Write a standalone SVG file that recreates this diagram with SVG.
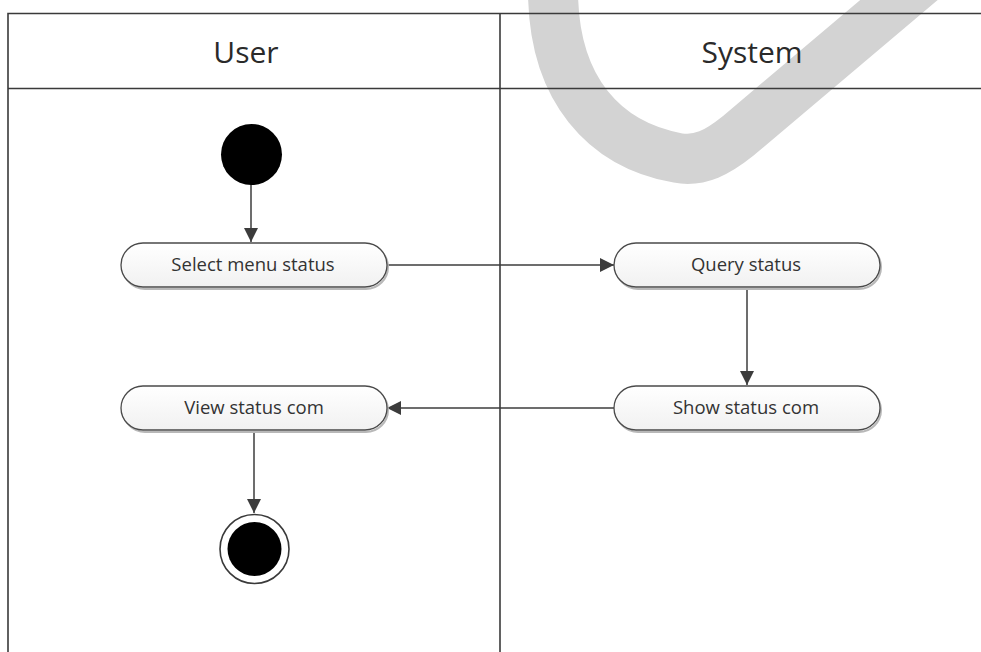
<svg xmlns="http://www.w3.org/2000/svg" width="981" height="652" viewBox="0 0 981 652">
  <style>
    .frame { fill: none; stroke: #3a3a3a; stroke-width: 1.6; }
    .lane-title { font-family: "Open Sans", "Noto Sans", sans-serif; font-size: 30px; fill: #2a2a2a; text-anchor: middle; }
    .node-box { fill: url(#nodeGrad); stroke: #4a4a4a; stroke-width: 1.3; }
    .node-shadow { fill: none; stroke: #b8b8b8; stroke-width: 2; }
    .node-text { font-family: "Open Sans", "Noto Sans", sans-serif; font-size: 18.5px; fill: #333; text-anchor: middle; }
    .conn { fill: none; stroke: #3c3c3c; stroke-width: 1.5; marker-end: url(#arrow); }
  </style>
  <defs>
    <linearGradient id="nodeGrad" x1="0" y1="0" x2="0" y2="1">
      <stop offset="0" stop-color="#ffffff"/>
      <stop offset="1" stop-color="#f1f1f1"/>
    </linearGradient>
    <marker id="arrow" viewBox="0 0 14 14" refX="14" refY="7" markerWidth="14" markerHeight="14" markerUnits="userSpaceOnUse" orient="auto">
      <path d="M0,0 L14,7 L0,14 z" fill="#3c3c3c"/>
    </marker>
  </defs>
  <rect width="981" height="652" fill="#ffffff"/>

  <!-- watermark band -->
  <path d="M 553 -10 C 553 90, 605 145, 678 158 C 700 162, 718 152, 738 136 L 925 -22" fill="none" stroke="#d3d3d3" stroke-width="50"/>

  <g id="swimlanes">
    <path class="frame" d="M 990 13.5 L 8 13.5 L 8 660"/>
    <line class="frame" x1="8" y1="88.5" x2="990" y2="88.5"/>
    <line class="frame" x1="500" y1="13.5" x2="500" y2="660"/>
    <text class="lane-title" x="246" y="63">User</text>
    <text class="lane-title" x="752" y="63">System</text>
  </g>

  <g id="connectors">
    <line class="conn" x1="251" y1="184" x2="251" y2="242"/>
    <line class="conn" x1="387" y1="265" x2="614" y2="265"/>
    <line class="conn" x1="747" y1="288" x2="747" y2="385"/>
    <line class="conn" x1="614" y1="408" x2="387" y2="408"/>
    <line class="conn" x1="254" y1="431" x2="254" y2="513"/>
  </g>

  <g id="start">
    <circle cx="251.5" cy="154.5" r="30.5" fill="#000"/>
  </g>

  <g id="select-menu-status">
    <rect class="node-shadow" x="123" y="245" width="265" height="44" rx="22"/>
    <rect class="node-box" x="121" y="243" width="266" height="44" rx="22"/>
    <text class="node-text" x="253" y="271">Select menu status</text>
  </g>

  <g id="query-status">
    <rect class="node-shadow" x="616" y="245" width="265" height="44" rx="22"/>
    <rect class="node-box" x="614" y="243" width="266" height="44" rx="22"/>
    <text class="node-text" x="746" y="271">Query status</text>
  </g>

  <g id="show-status-com">
    <rect class="node-shadow" x="616" y="388" width="265" height="44" rx="22"/>
    <rect class="node-box" x="614" y="386" width="266" height="44" rx="22"/>
    <text class="node-text" x="746" y="414">Show status com</text>
  </g>

  <g id="view-status-com">
    <rect class="node-shadow" x="123" y="388" width="265" height="44" rx="22"/>
    <rect class="node-box" x="121" y="386" width="266" height="44" rx="22"/>
    <text class="node-text" x="254" y="414">View status com</text>
  </g>

  <g id="end">
    <circle cx="254.5" cy="549" r="34.5" fill="#fff" stroke="#3a3a3a" stroke-width="1.6"/>
    <circle cx="254.5" cy="549" r="27" fill="#000"/>
  </g>
</svg>
